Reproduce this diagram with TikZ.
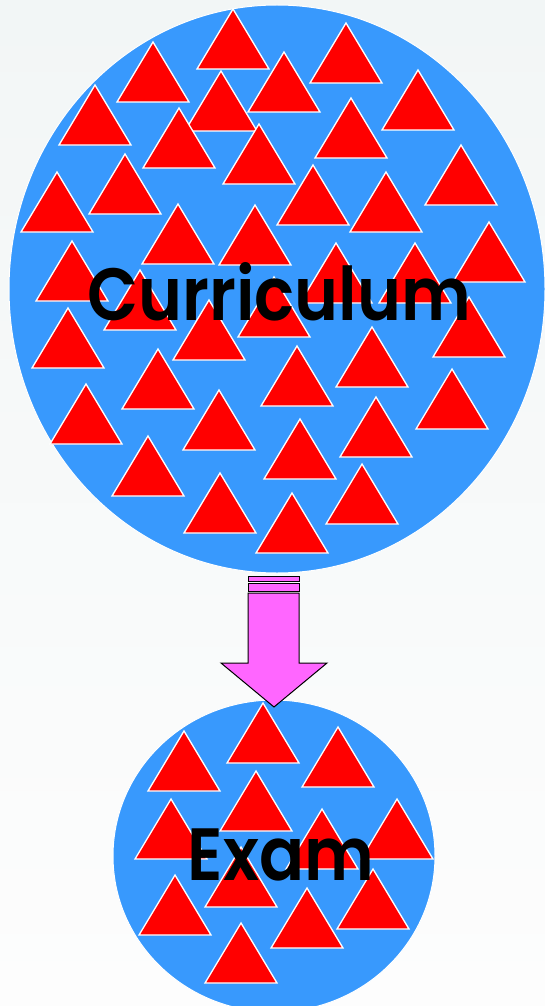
\documentclass[tikz,border=0pt]{standalone}
\usepackage{fontspec}
\setmainfont{Poppins}
\newfontfamily\blobfont{Poppins SemiBold}
\usepackage{tikz}
\usetikzlibrary{shapes.geometric,positioning}
\definecolor{bgtop}{HTML}{F2F6F6}
\definecolor{bgbottom}{HTML}{FDFDFD}
\definecolor{blobblue}{HTML}{3899FD}
\definecolor{trired}{HTML}{FF0000}
\definecolor{arrowpink}{HTML}{FF66FF}
\tikzset{
  blob/.style={ellipse, fill=blobblue, draw=white, line width=1pt, inner sep=0pt, outer sep=0pt},
  tri/.style={fill=trired, draw=white, line width=1.3pt, line join=miter},
  blobtext/.style={font=\fontsize{74}{80}\blobfont, text=black, inner sep=0pt, anchor=base},
  bigarrow/.style={fill=arrowpink, draw=black, line width=1pt, line join=miter}
}

\begin{document}
\begin{tikzpicture}[x=1pt, y=-1pt]
  \useasboundingbox (0,0) rectangle (545,1006);
  \shade[top color=bgtop, bottom color=bgbottom] (0,0) rectangle (545,1006);
  \clip (0,0) rectangle (545,1006);
  % the two blobs
  \node[blob, minimum width=536pt, minimum height=568pt] (curriculum) at (277,289) {};
  \node[blob, minimum width=322pt, minimum height=312pt] (exam) at (274,856) {};
  % triangles, apex points
  \foreach \tx/\ty in {233/9, 346/23, 153/42, 284/52, 418/70, 221/71, 95/85, 351/98,
      179/108, 259/124, 461/145, 125/154, 313/165, 57/172, 386/172, 178/204, 255/205,
      489/222, 72/241, 336/243, 415/243, 140/270, 274/277, 469/297, 209/300, 68/308,
      372/327, 297/346, 158/349, 452/369, 86/384, 219/390, 376/397, 300/419, 148/436,
      362/464, 220/473, 292/493}
    \draw[tri] (\tx,\ty) -- ++(36,60) -- ++(-72,0) -- cycle;
  \foreach \tx/\ty in {263/703, 338/727, 184/731, 256/771, 171/799, 397/799, 322/809,
      241/847, 373/869, 175/875, 307/888, 241/923}
    \draw[tri] (\tx,\ty) -- ++(36,60) -- ++(-72,0) -- cycle;
  % labels
  \node[blobtext, xscale=0.9] (curriculumlabel) at (279,320) {Curriculum};
  \node[blobtext, xscale=0.9] (examlabel) at (281,880) {Exam};
  % striped arrow between the blobs
  \draw[bigarrow] (248,576) rectangle (299,581);
  \draw[bigarrow] (248,583) rectangle (299,591);
  \draw[bigarrow] (248,593) -- (248,663) -- (221,663) -- ([yshift=-7pt]exam.north)
    -- (327,663) -- (299,663) -- (299,593) -- cycle;
\end{tikzpicture}
\end{document}
